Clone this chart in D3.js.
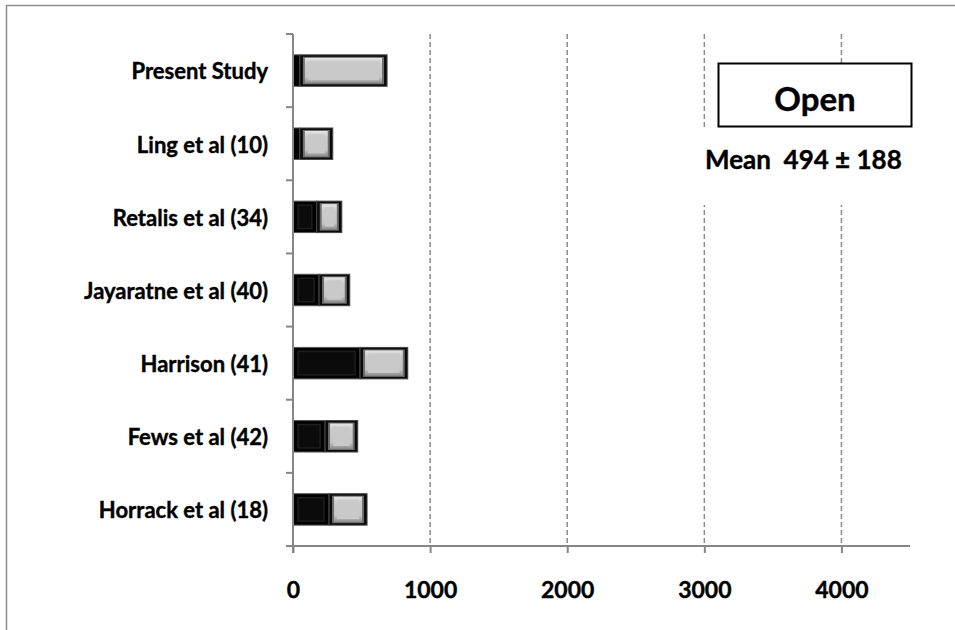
<!DOCTYPE html>
<html>
<head>
<meta charset="utf-8">
<script src="https://cdn.jsdelivr.net/npm/d3@7"></script>
<style>
  body { margin: 0; background: #fff; }
  text { font-family: Lato, "Open Sans", sans-serif; font-weight: bold; fill: #000; stroke: #000; stroke-width: 0.4px; }
</style>
</head>
<body>
<div id="chart"></div>
<script>
// studies, top to bottom
var categories = ["Present Study", "Ling et al (10)", "Retalis et al (34)",
    "Jayaratne et al (40)", "Harrison (41)", "Fews et al (42)", "Horrack et al (18)"];
// dark (first) segment and light (second) segment of each bar
var darkValues = [50, 50, 173, 190, 489, 234, 263];
var lightValues = [636, 240, 183, 224, 348, 238, 277];
var xTicks = [0, 1000, 2000, 3000, 4000];
var boxLabel = "Open";
var meanLabel = "Mean  494 \u00b1 188";

var W = 955, H = 630;
var margin = {left: 293, right: 45, top: 34, bottom: 84};

var svg = d3.select("#chart").append("svg")
    .attr("width", W).attr("height", H);

var defs = svg.append("defs");
var g1 = defs.append("linearGradient").attr("id", "bevelV").attr("x1", 0).attr("y1", 0).attr("x2", 0).attr("y2", 1);
g1.append("stop").attr("offset", "0%").attr("stop-color", "#e4e4e4");
g1.append("stop").attr("offset", "25%").attr("stop-color", "#cbcbcb");
g1.append("stop").attr("offset", "75%").attr("stop-color", "#c6c6c6");
g1.append("stop").attr("offset", "100%").attr("stop-color", "#8a8a8a");

// outer frame
svg.append("rect")
    .attr("x", 6.5).attr("y", 5.5)
    .attr("width", W + 20).attr("height", H + 20)
    .attr("fill", "none").attr("stroke", "#8c8c8c").attr("stroke-width", 1.5);

var x = d3.scaleLinear().domain([0, 4500]).range([margin.left, W - margin.right]);
var y = d3.scaleBand().domain(categories).range([margin.top, H - margin.bottom]).paddingInner(0.57).paddingOuter(0.285);
var yOuter = d3.scaleBand().domain(categories).range([margin.top, H - margin.bottom]);

// grid lines
svg.append("g").selectAll("line").data(xTicks.slice(1)).enter().append("line")
    .attr("x1", function(d) { return x(d); })
    .attr("x2", function(d) { return x(d); })
    .attr("y1", margin.top).attr("y2", H - margin.bottom)
    .attr("stroke", "#8c8c8c").attr("stroke-width", 1.5)
    .attr("stroke-dasharray", "5,3");

// bars
var bars = svg.append("g").selectAll("g").data(categories).enter().append("g");

bars.each(function(c, i) {
    var gb = d3.select(this);
    var y0 = y(c), h = y.bandwidth();
    var xa = x(0), xb = x(darkValues[i]), xc = x(darkValues[i] + lightValues[i]);
    // dark segment
    gb.append("rect").attr("x", xa).attr("y", y0).attr("width", xb - xa).attr("height", h)
        .attr("fill", "#000").attr("stroke", "#555").attr("stroke-width", 1);
    if (xb - xa > 14) {
        gb.append("rect").attr("x", xa + 5).attr("y", y0 + 4).attr("width", xb - xa - 10).attr("height", h - 8)
            .attr("fill", "#0b0b0b").attr("stroke", "#1e1e1e").attr("stroke-width", 1.5);
    }
    // light segment
    gb.append("rect").attr("x", xb).attr("y", y0).attr("width", xc - xb).attr("height", h)
        .attr("fill", "#0a0a0a").attr("stroke", "#444").attr("stroke-width", 1);
    gb.append("rect").attr("x", xb + 3).attr("y", y0 + 2).attr("width", xc - xb - 6).attr("height", h - 4)
        .attr("fill", "#6e6e6e");
    gb.append("rect").attr("x", xb + 5).attr("y", y0 + 3).attr("width", xc - xb - 10).attr("height", h - 6)
        .attr("fill", "url(#bevelV)");
    gb.append("rect").attr("x", xb + 8).attr("y", y0 + 6).attr("width", xc - xb - 16).attr("height", h - 12)
        .attr("fill", "#c9c9c9");
});

// axes
var xAxis = svg.append("g").attr("transform", "translate(0," + (H - margin.bottom) + ")")
    .call(d3.axisBottom(x).tickValues(xTicks).tickSize(7).tickFormat(d3.format("d")));
xAxis.select(".domain").attr("d", "M" + x(0) + ",0H" + (W - margin.right)).attr("stroke", "#868686").attr("stroke-width", 2);
xAxis.selectAll(".tick line").attr("stroke", "#868686").attr("stroke-width", 2);
xAxis.selectAll(".tick text").attr("dy", 0).attr("y", 52)
    .style("font-size", "23px").style("font-family", "Lato, sans-serif").style("font-weight", "bold");

var yAxis = svg.append("g").attr("transform", "translate(" + x(0) + ",0)");
yAxis.append("line").attr("x1", 0).attr("x2", 0)
    .attr("y1", margin.top).attr("y2", H - margin.bottom + 7)
    .attr("stroke", "#868686").attr("stroke-width", 2);
var bounds = categories.map(function(c) { return yOuter(c); }).concat([H - margin.bottom]);
yAxis.selectAll("line.tk").data(bounds).enter().append("line").attr("class", "tk")
    .attr("x1", -7).attr("x2", 0)
    .attr("y1", function(d) { return d; }).attr("y2", function(d) { return d; })
    .attr("stroke", "#868686").attr("stroke-width", 2);
yAxis.selectAll("text").data(categories).enter().append("text")
    .attr("x", -25)
    .attr("y", function(c) { return yOuter(c) + yOuter.bandwidth() / 2; })
    .attr("dy", "0.4em")
    .attr("text-anchor", "end")
    .style("font-size", "22px")
    .text(function(c) { return c; });

// annotation
svg.append("rect").attr("x", 700).attr("y", 130).attr("width", 208).attr("height", 75).attr("fill", "#fff");
svg.append("rect").attr("x", 718.5).attr("y", 63.5).attr("width", 193).attr("height", 63)
    .attr("fill", "#fff").attr("stroke", "#000").attr("stroke-width", 2);
svg.append("text").attr("x", 815).attr("y", 111).attr("text-anchor", "middle")
    .style("font-size", "33px").text(boxLabel);
svg.append("text").attr("x", 705).attr("y", 169)
    .style("font-size", "26px").attr("xml:space", "preserve").text(meanLabel);
</script>
</body>
</html>
